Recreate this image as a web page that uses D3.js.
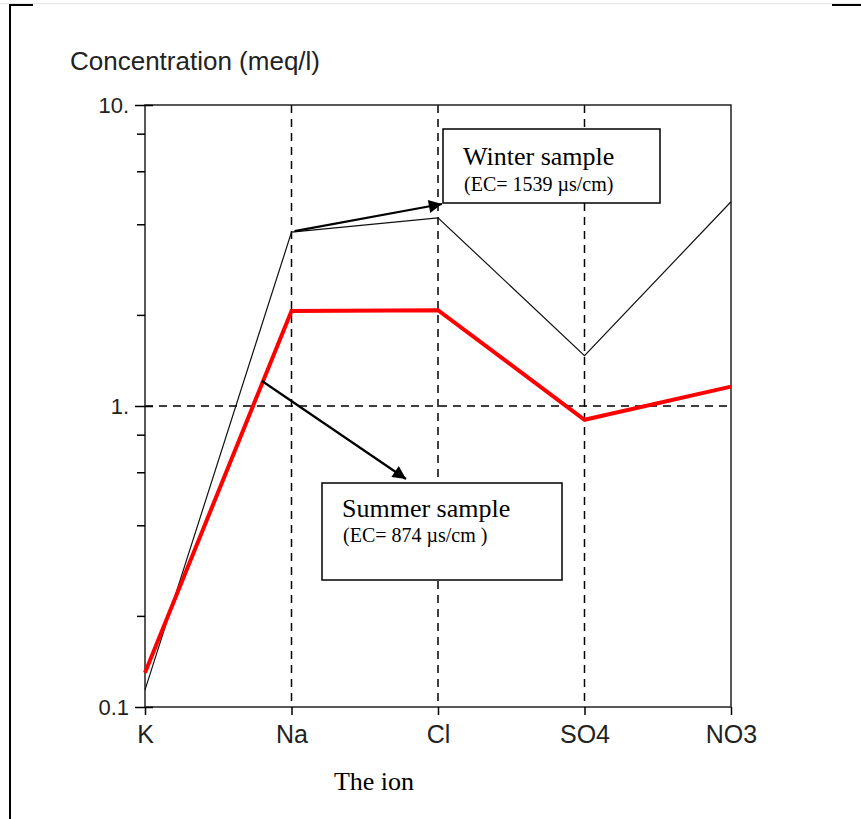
<!DOCTYPE html>
<html>
<head>
<meta charset="utf-8">
<script src="https://cdn.jsdelivr.net/npm/d3@7"></script>
<style>
  html, body { margin: 0; padding: 0; background: #fff; }
  svg { display: block; }
</style>
</head>
<body>
<script>
// Ion concentrations (meq/l) for the two sampling seasons
const ions = ["K", "Na", "Cl", "SO4", "NO3"];
const winter = [0.114, 3.78, 4.22, 1.47, 4.77];
const summer = [0.13, 2.07, 2.08, 0.90, 1.16];
const majorTicks = [0.1, 1, 10];
const majorTickLabels = ["0.1", "1.", "10."];
const minorTicks = [0.2, 0.4, 0.6, 0.8, 2, 4, 6, 8];

const W = 861, H = 819;
const plot = { left: 145, right: 731, top: 105, bottom: 707 };
const sans = "Liberation Sans, Arial, sans-serif";
const serif = "Liberation Serif, Times New Roman, serif";

const svg = d3.select("body").append("svg")
  .attr("width", W).attr("height", H);

const x = d3.scalePoint().domain(ions).range([plot.left, plot.right]);
const y = d3.scaleLog().domain([0.1, 10]).range([plot.bottom, plot.top]);

// Page frame fragments
svg.append("line").attr("x1", 0).attr("x2", W).attr("y1", 3.5).attr("y2", 3.5)
  .attr("stroke", "#e6e6e6").attr("stroke-width", 1);
svg.append("path").attr("d", `M33,5 H10 V${H}`)
  .attr("fill", "none").attr("stroke", "#000").attr("stroke-width", 2);
svg.append("line").attr("x1", 832).attr("x2", W).attr("y1", 5).attr("y2", 5)
  .attr("stroke", "#000").attr("stroke-width", 2);

// Dashed grid: inner category lines and the 1.0 level
const grid = svg.append("g").attr("stroke", "#000").attr("stroke-width", 1.5)
  .attr("stroke-dasharray", "8,6");
ions.slice(1, -1).forEach(d => {
  grid.append("line").attr("x1", x(d)).attr("x2", x(d))
    .attr("y1", plot.top).attr("y2", plot.bottom);
});
grid.append("line").attr("x1", plot.left).attr("x2", plot.right)
  .attr("y1", y(1)).attr("y2", y(1));

// Plot frame
svg.append("rect").attr("x", plot.left).attr("y", plot.top)
  .attr("width", plot.right - plot.left).attr("height", plot.bottom - plot.top)
  .attr("fill", "none").attr("stroke", "#222").attr("stroke-width", 1.5);

// Y axis (log) with major and minor ticks
const yAxis = d3.axisLeft(y).tickValues(majorTicks)
  .tickFormat((d, i) => majorTickLabels[i]).tickSize(10).tickPadding(6);
const gy = svg.append("g").attr("transform", `translate(${plot.left},0)`).call(yAxis);
gy.select(".domain").remove();
gy.selectAll(".tick line").attr("stroke", "#000").attr("stroke-width", 1.5)
  .attr("x2", -10).attr("x1", 8);
gy.selectAll(".tick text").attr("font-family", sans)
  .attr("font-size", 22).attr("fill", "#222").attr("dy", "0.35em");

svg.append("g").selectAll("line").data(minorTicks).join("line")
  .attr("x1", plot.left - 8).attr("x2", plot.left)
  .attr("y1", d => y(d)).attr("y2", d => y(d))
  .attr("stroke", "#000").attr("stroke-width", 1.5);

// X axis with ion names
const xAxis = d3.axisBottom(x).tickSize(8).tickPadding(10);
const gx = svg.append("g").attr("transform", `translate(0,${plot.bottom})`).call(xAxis);
gx.select(".domain").remove();
gx.selectAll(".tick line").attr("stroke", "#000").attr("stroke-width", 1.5);
gx.selectAll(".tick text").attr("font-family", sans)
  .attr("font-size", 25).attr("fill", "#222");

// Axis titles
svg.append("text").attr("x", 70).attr("y", 70)
  .attr("font-family", sans).attr("font-size", 26)
  .attr("fill", "#222").text("Concentration (meq/l)");
svg.append("text").attr("x", 374).attr("y", 790).attr("text-anchor", "middle")
  .attr("font-family", serif).attr("font-size", 26)
  .attr("fill", "#000").text("The ion");

// Series lines
const line = d3.line().x((d, i) => x(ions[i])).y(d => y(d));
svg.append("path").datum(winter).attr("d", line)
  .attr("fill", "none").attr("stroke", "#111").attr("stroke-width", 1.2);
svg.append("path").datum(summer).attr("d", line)
  .attr("fill", "none").attr("stroke", "#ff0000").attr("stroke-width", 4)
  .attr("stroke-linejoin", "miter");

// Arrow marker
svg.append("defs").append("marker")
  .attr("id", "head").attr("viewBox", "0 0 10 10")
  .attr("refX", 10).attr("refY", 5)
  .attr("markerWidth", 8).attr("markerHeight", 6)
  .attr("markerUnits", "strokeWidth").attr("orient", "auto")
  .append("path").attr("d", "M0,0 L10,5 L0,10 Z").attr("fill", "#000");

// Annotation boxes
function note(bx, by, bw, bh, title, sub, ty, sy) {
  const g = svg.append("g");
  g.append("rect").attr("x", bx).attr("y", by).attr("width", bw).attr("height", bh)
    .attr("fill", "#fff").attr("stroke", "#000").attr("stroke-width", 1.5);
  g.append("text").attr("x", bx + 20).attr("y", by + ty)
    .attr("font-family", serif).attr("font-size", 26)
    .attr("fill", "#000").text(title);
  g.append("text").attr("x", bx + 21).attr("y", by + sy)
    .attr("font-family", serif).attr("font-size", 20)
    .attr("fill", "#000").text(sub);
}
note(443, 129, 217, 74, "Winter sample", "(EC= 1539 µs/cm)", 36, 62);
note(322, 483, 240, 97, "Summer sample", "(EC= 874 µs/cm )", 34, 59);

// Arrows from the lines to their labels
svg.append("line").attr("x1", x("Na") + 3).attr("y1", y(winter[1]) - 1)
  .attr("x2", 442).attr("y2", 204)
  .attr("stroke", "#000").attr("stroke-width", 2.2).attr("marker-end", "url(#head)");
svg.append("line").attr("x1", 262).attr("y1", 381)
  .attr("x2", 406).attr("y2", 479)
  .attr("stroke", "#000").attr("stroke-width", 2.2).attr("marker-end", "url(#head)");
</script>
</body>
</html>
